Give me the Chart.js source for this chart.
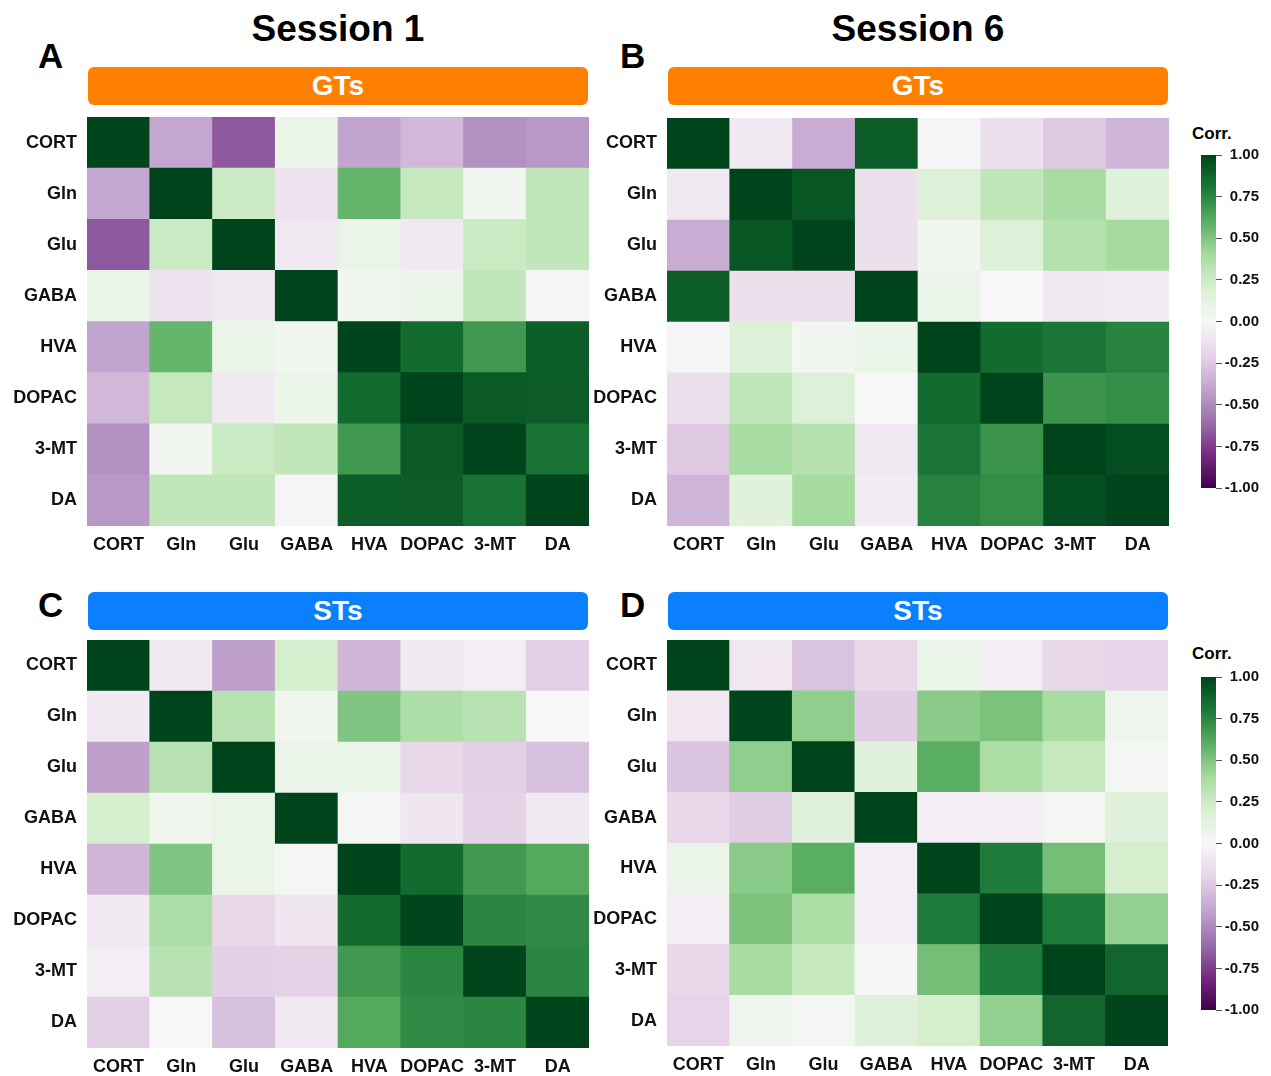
<!DOCTYPE html>
<html>
<head>
<meta charset="utf-8">
<title>Correlation heatmaps</title>
<script src="https://cdn.jsdelivr.net/npm/chart.js@4.4.1/dist/chart.umd.min.js"></script>
<style>
  html, body { margin: 0; padding: 0; background: #fff; }
  body { width: 1271px; height: 1076px; position: relative; overflow: hidden;
         font-family: "Liberation Sans", Arial, sans-serif; color: #000; }
  .abs { position: absolute; }
  .session { font-weight: bold; font-size: 37px; line-height: 1; text-align: center; width: 500px; }
  .letter { font-weight: bold; font-size: 35px; line-height: 1; }
  .band { border-radius: 6px; color: #fff; font-weight: bold; font-size: 28px;
          display: flex; align-items: center; justify-content: center; width: 500px; height: 38px; }
  .gt { background: #ff8000; }
  .st { background: #0a80ff; }
  .corr { font-weight: bold; font-size: 17px; line-height: 1; }
</style>
</head>
<body>

<div class="abs session" style="left:88px;top:10px;">Session 1</div>
<div class="abs session" style="left:668px;top:10px;">Session 6</div>

<div class="abs letter" style="left:38px;top:38px;">A</div>
<div class="abs letter" style="left:620px;top:38px;">B</div>
<div class="abs letter" style="left:38px;top:587px;">C</div>
<div class="abs letter" style="left:620px;top:587px;">D</div>

<div class="abs band gt" style="left:88px;top:67px;">GTs</div>
<div class="abs band gt" style="left:668px;top:67px;">GTs</div>
<div class="abs band st" style="left:88px;top:592px;">STs</div>
<div class="abs band st" style="left:668px;top:592px;">STs</div>

<canvas id="heatA" class="abs" width="589" height="449" style="left:0px;top:117px;"></canvas>
<canvas id="heatB" class="abs" width="589" height="448" style="left:580px;top:118px;"></canvas>
<canvas id="heatC" class="abs" width="589" height="448" style="left:0px;top:640px;"></canvas>
<canvas id="heatD" class="abs" width="588" height="446" style="left:580px;top:640px;"></canvas>

<div class="abs corr" style="left:1192px;top:125px;">Corr.</div>
<div class="abs corr" style="left:1192px;top:645px;">Corr.</div>
<canvas id="barTop" class="abs" width="58" height="353" style="left:1201px;top:145px;"></canvas>
<canvas id="barBottom" class="abs" width="58" height="353" style="left:1201px;top:667px;"></canvas>

<script>
// Metabolites, in row/column order of every matrix
const metabolites = ['CORT', 'Gln', 'Glu', 'GABA', 'HVA', 'DOPAC', '3-MT', 'DA'];

// Pearson correlations, GTs, session 1
const gtSession1 = [
  [ 1.00, -0.39, -0.67,  0.09, -0.40, -0.32, -0.48, -0.45],
  [-0.39,  1.00,  0.26, -0.12,  0.57,  0.28,  0.04,  0.30],
  [-0.67,  0.26,  1.00, -0.08,  0.08, -0.08,  0.26,  0.30],
  [ 0.09, -0.12, -0.08,  1.00,  0.04,  0.07,  0.30, -0.02],
  [-0.40,  0.57,  0.08,  0.04,  1.00,  0.85,  0.68,  0.90],
  [-0.32,  0.28, -0.08,  0.07,  0.85,  1.00,  0.92,  0.91],
  [-0.48,  0.04,  0.26,  0.30,  0.68,  0.92,  1.00,  0.82],
  [-0.45,  0.30,  0.30, -0.02,  0.90,  0.91,  0.82,  1.00]
];

// Pearson correlations, GTs, session 6
const gtSession6 = [
  [ 1.00, -0.08, -0.37,  0.90, -0.02, -0.13, -0.25, -0.33],
  [-0.08,  1.00,  0.93, -0.13,  0.17,  0.30,  0.39,  0.15],
  [-0.37,  0.93,  1.00, -0.13,  0.04,  0.18,  0.34,  0.40],
  [ 0.90, -0.13, -0.13,  1.00,  0.08,  0.00, -0.08, -0.07],
  [-0.02,  0.17,  0.04,  0.08,  1.00,  0.85,  0.81,  0.76],
  [-0.13,  0.30,  0.18,  0.00,  0.85,  1.00,  0.70,  0.72],
  [-0.25,  0.39,  0.34, -0.08,  0.81,  0.70,  1.00,  0.96],
  [-0.33,  0.15,  0.40, -0.07,  0.76,  0.72,  0.96,  1.00]
];

// Pearson correlations, STs, session 1
const stSession1 = [
  [ 1.00, -0.08, -0.42,  0.22, -0.33, -0.08, -0.05, -0.22],
  [-0.08,  1.00,  0.33,  0.05,  0.50,  0.37,  0.33,  0.00],
  [-0.42,  0.33,  1.00,  0.08,  0.08, -0.18, -0.22, -0.28],
  [ 0.22,  0.05,  0.08,  1.00,  0.02, -0.10, -0.21, -0.08],
  [-0.33,  0.50,  0.08,  0.02,  1.00,  0.85,  0.68,  0.62],
  [-0.08,  0.37, -0.18, -0.10,  0.85,  1.00,  0.75,  0.73],
  [-0.05,  0.33, -0.22, -0.21,  0.68,  0.75,  1.00,  0.75],
  [-0.22,  0.00, -0.28, -0.08,  0.62,  0.73,  0.75,  1.00]
];

// Pearson correlations, STs, session 6
const stSession6 = [
  [ 1.00, -0.09, -0.27, -0.18,  0.08, -0.05, -0.18, -0.20],
  [-0.09,  1.00,  0.46, -0.23,  0.47,  0.51,  0.39,  0.06],
  [-0.27,  0.46,  1.00,  0.16,  0.60,  0.38,  0.28,  0.02],
  [-0.18, -0.23,  0.16,  1.00, -0.05, -0.05,  0.03,  0.16],
  [ 0.08,  0.47,  0.60, -0.05,  1.00,  0.79,  0.53,  0.22],
  [-0.05,  0.51,  0.38, -0.05,  0.79,  1.00,  0.79,  0.45],
  [-0.18,  0.39,  0.28,  0.03,  0.53,  0.79,  1.00,  0.87],
  [-0.20,  0.06,  0.02,  0.16,  0.22,  0.45,  0.87,  1.00]
];

// Colour bar range
const corrMin = -1;
const corrMax = 1;
const corrStep = 0.25;

// Diverging purple-green palette, evenly spaced over [-1, 1]
const prgnStops = ['#40004b', '#762a83', '#9970ab', '#c2a5cf', '#e7d4e8', '#f7f7f7',
                   '#d9f0d3', '#a6dba0', '#5aae61', '#1b7837', '#00441b'];

function hexToRgb(h) {
  return [parseInt(h.slice(1, 3), 16), parseInt(h.slice(3, 5), 16), parseInt(h.slice(5, 7), 16)];
}

function prgn(v) {
  const t = Math.max(0, Math.min(1, (v - corrMin) / (corrMax - corrMin))) * (prgnStops.length - 1);
  const i = Math.min(prgnStops.length - 2, Math.floor(t));
  const f = t - i;
  const a = hexToRgb(prgnStops[i]);
  const b = hexToRgb(prgnStops[i + 1]);
  const c = a.map((x, k) => Math.round(x + (b[k] - x) * f));
  return `rgb(${c[0]},${c[1]},${c[2]})`;
}

const labelFont = { family: '"Liberation Sans", Arial, sans-serif', size: 18, weight: 'bold' };
const n = metabolites.length;

function heatmap(canvasId, matrix) {
  // One stacked dataset per matrix row, bottom row first; every cell is one unit tall.
  const datasets = [];
  for (let r = n - 1; r >= 0; r--) {
    datasets.push({
      label: metabolites[r],
      data: metabolites.map(() => 1),
      corr: matrix[r],
      backgroundColor: matrix[r].map(prgn),
      borderWidth: 0,
      borderSkipped: false,
      categoryPercentage: 1,
      barPercentage: 1
    });
  }
  return new Chart(document.getElementById(canvasId), {
    type: 'bar',
    data: { labels: metabolites, datasets },
    options: {
      responsive: false,
      animation: false,
      devicePixelRatio: 1,
      layout: { padding: 0, autoPadding: false },
      plugins: {
        legend: { display: false },
        tooltip: {
          callbacks: {
            label: (ctx) => `${ctx.dataset.label} / ${ctx.label}: ${ctx.dataset.corr[ctx.dataIndex].toFixed(2)}`
          }
        }
      },
      scales: {
        x: {
          stacked: true,
          grid: { display: false, drawTicks: false },
          border: { display: false },
          ticks: { padding: 8, font: labelFont, color: '#111', maxRotation: 0, autoSkip: false },
          afterFit: (s) => { s.height = 40; s.paddingLeft = 0; s.paddingRight = 0; }
        },
        y: {
          stacked: true,
          min: 0,
          max: n,
          grid: { display: false, drawTicks: false },
          border: { display: false },
          afterBuildTicks: (s) => { s.ticks = metabolites.map((_, i) => ({ value: i + 0.5 })); },
          ticks: {
            padding: 10, font: labelFont, color: '#111', autoSkip: false,
            callback: (v) => metabolites[n - 0.5 - v]
          },
          afterFit: (s) => { s.width = 87; s.paddingTop = 0; s.paddingBottom = 0; }
        }
      }
    }
  });
}

function colorBar(canvasId) {
  return new Chart(document.getElementById(canvasId), {
    type: 'bar',
    data: {
      labels: ['Corr.'],
      datasets: [{
        data: [[corrMin, corrMax]],
        borderWidth: 0,
        borderSkipped: false,
        categoryPercentage: 1,
        barPercentage: 1,
        backgroundColor: (ctx) => {
          const area = ctx.chart.chartArea;
          if (!area) return prgn(0);
          const g = ctx.chart.ctx.createLinearGradient(0, area.bottom, 0, area.top);
          prgnStops.forEach((c, i) => g.addColorStop(i / (prgnStops.length - 1), c));
          return g;
        }
      }]
    },
    options: {
      responsive: false,
      animation: false,
      devicePixelRatio: 1,
      layout: { padding: { top: 10, bottom: 10, left: 0, right: 0 }, autoPadding: false },
      plugins: { legend: { display: false }, tooltip: { enabled: false } },
      scales: {
        x: { display: false },
        y: {
          position: 'right',
          min: corrMin,
          max: corrMax,
          grid: { drawOnChartArea: false, drawTicks: true, tickLength: 6, color: '#555', lineWidth: 1 },
          border: { display: false },
          ticks: {
            stepSize: corrStep, padding: 2, crossAlign: 'far', color: '#111',
            font: { family: '"Liberation Sans", Arial, sans-serif', size: 15, weight: 'bold' },
            callback: (v) => Number(v).toFixed(2)
          },
          afterFit: (s) => { s.width = 43; s.paddingTop = 0; s.paddingBottom = 0; }
        }
      }
    }
  });
}

heatmap('heatA', gtSession1);
heatmap('heatB', gtSession6);
heatmap('heatC', stSession1);
heatmap('heatD', stSession6);
colorBar('barTop');
colorBar('barBottom');
</script>
</body>
</html>
